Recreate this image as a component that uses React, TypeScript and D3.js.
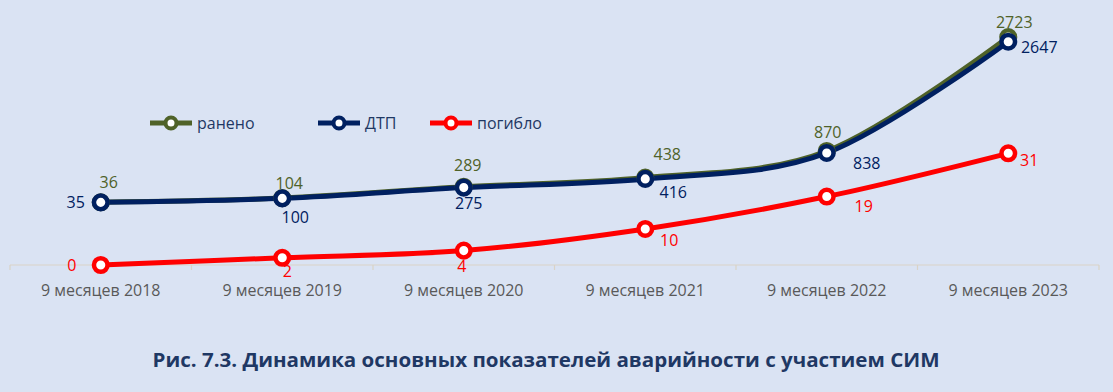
import React, { useEffect } from "react";
import * as d3 from "d3";

const categories = [
  "9 месяцев 2018",
  "9 месяцев 2019",
  "9 месяцев 2020",
  "9 месяцев 2021",
  "9 месяцев 2022",
  "9 месяцев 2023",
];
const injured = [36, 104, 289, 438, 870, 2723];
const accidents = [35, 100, 275, 416, 838, 2647];
const killed = [0, 2, 4, 10, 19, 31];
const seriesNames = ["ранено", "ДТП", "погибло"];
const title = "Рис. 7.3. Динамика основных показателей аварийности с участием СИМ";

// layout config (label offsets relative to the point)
const injuredOffsets: [number, number][] = [[8, -20], [7, -15], [4, -21], [22, -23], [1, -19], [6, -15]];
const accOffsets: [number, number][] = [[-25, 0], [13, 19], [5, 16], [28, 13], [40, 10], [31, 6]];
const killedOffsets: [number, number][] = [[-29, 0], [5, 14], [-2, 16], [24, 11], [37, 10], [21, 7]];

const W = 1113;
const H = 392;
const BG = "#dae3f3";
const GREEN = "#4f6228";
const NAVY = "#002060";
const RED = "#ff0000";
const FONT = "'Open Sans', 'DejaVu Sans', sans-serif";

export default function App() {
  useEffect(() => {
    document.body.style.margin = "0";
    document.body.style.background = BG;
  }, []);

  const x = d3.scaleBand<string>().domain(categories).range([10, 1099]);
  const cx = (i: number) => (x(categories[i]) as number) + x.bandwidth() / 2;
  const yL = d3.scaleLinear().domain([-1000, 3000]).range([266, 20]);
  const yR = d3.scaleLinear().domain([0, 68]).range([265, 20]);

  const line = (vals: number[], y: d3.ScaleLinear<number, number>) =>
    d3
      .line<number>()
      .x((_, i) => cx(i))
      .y((v) => y(v))
      .curve(d3.curveCatmullRom.alpha(0))(vals) as string;

  const series = [
    { vals: injured, y: yL, color: GREEN, labelColor: GREEN, offs: injuredOffsets },
    { vals: accidents, y: yL, color: NAVY, labelColor: NAVY, offs: accOffsets },
    { vals: killed, y: yR, color: RED, labelColor: RED, offs: killedOffsets },
  ];

  const boundaries = categories.map((c) => x(c) as number).concat([x.range()[1]]);

  const legendItems = [
    { name: seriesNames[0], color: GREEN, x0: 150 },
    { name: seriesNames[1], color: NAVY, x0: 318 },
    { name: seriesNames[2], color: RED, x0: 430 },
  ];

  return (
    <svg width={W} height={H} style={{ display: "block", background: BG }}>
      <rect x={0} y={0} width={W} height={H} fill={BG} />
      {/* axis */}
      <line x1={10} x2={1099} y1={265} y2={265} stroke="#d9d3c7" strokeWidth={1.2} />
      {boundaries.map((b, i) => (
        <line key={i} x1={b} x2={b} y1={265} y2={270} stroke="#d9d3c7" strokeWidth={1.2} />
      ))}
      {categories.map((c, i) => (
        <text
          key={c}
          x={cx(i)}
          y={296}
          textAnchor="middle"
          fontFamily={FONT}
          fontSize={16}
          fill="#595959"
        >
          {c}
        </text>
      ))}
      {/* lines */}
      {series.map((s, si) => (
        <path key={si} d={line(s.vals, s.y)} fill="none" stroke={s.color} strokeWidth={5} strokeLinecap="round" />
      ))}
      {series.map((s, si) => (
        <g key={"m" + si}>
          {s.vals.map((v, i) => (
            <circle key={i} cx={cx(i)} cy={s.y(v)} r={6.8} fill="#ffffff" stroke={s.color} strokeWidth={4.5} />
          ))}
        </g>
      ))}
      {/* labels */}
      {series.map((s, si) => (
        <g key={"l" + si}>
          {s.vals.map((v, i) => (
            <text
              key={i}
              x={cx(i) + s.offs[i][0]}
              y={s.y(v) + s.offs[i][1]}
              dy="0.35em"
              textAnchor="middle"
              fontFamily={FONT}
              fontSize={16}
              fill={s.labelColor}
            >
              {v}
            </text>
          ))}
        </g>
      ))}
      {/* legend */}
      {legendItems.map((l) => (
        <g key={l.name}>
          <line x1={l.x0} x2={l.x0 + 42} y1={123} y2={123} stroke={l.color} strokeWidth={5} />
          <circle cx={l.x0 + 21} cy={123} r={5.5} fill="#ffffff" stroke={l.color} strokeWidth={4} />
          <text x={l.x0 + 47} y={123} dy="0.35em" fontFamily={FONT} fontSize={16} fill="#1f3864">
            {l.name}
          </text>
        </g>
      ))}
      {/* title */}
      <text
        x={546}
        y={367}
        textAnchor="middle"
        fontFamily={FONT}
        fontWeight="bold"
        fontSize={20}
        fill="#1f3864"
        textLength={787}
        lengthAdjust="spacingAndGlyphs"
      >
        {title}
      </text>
    </svg>
  );
}
